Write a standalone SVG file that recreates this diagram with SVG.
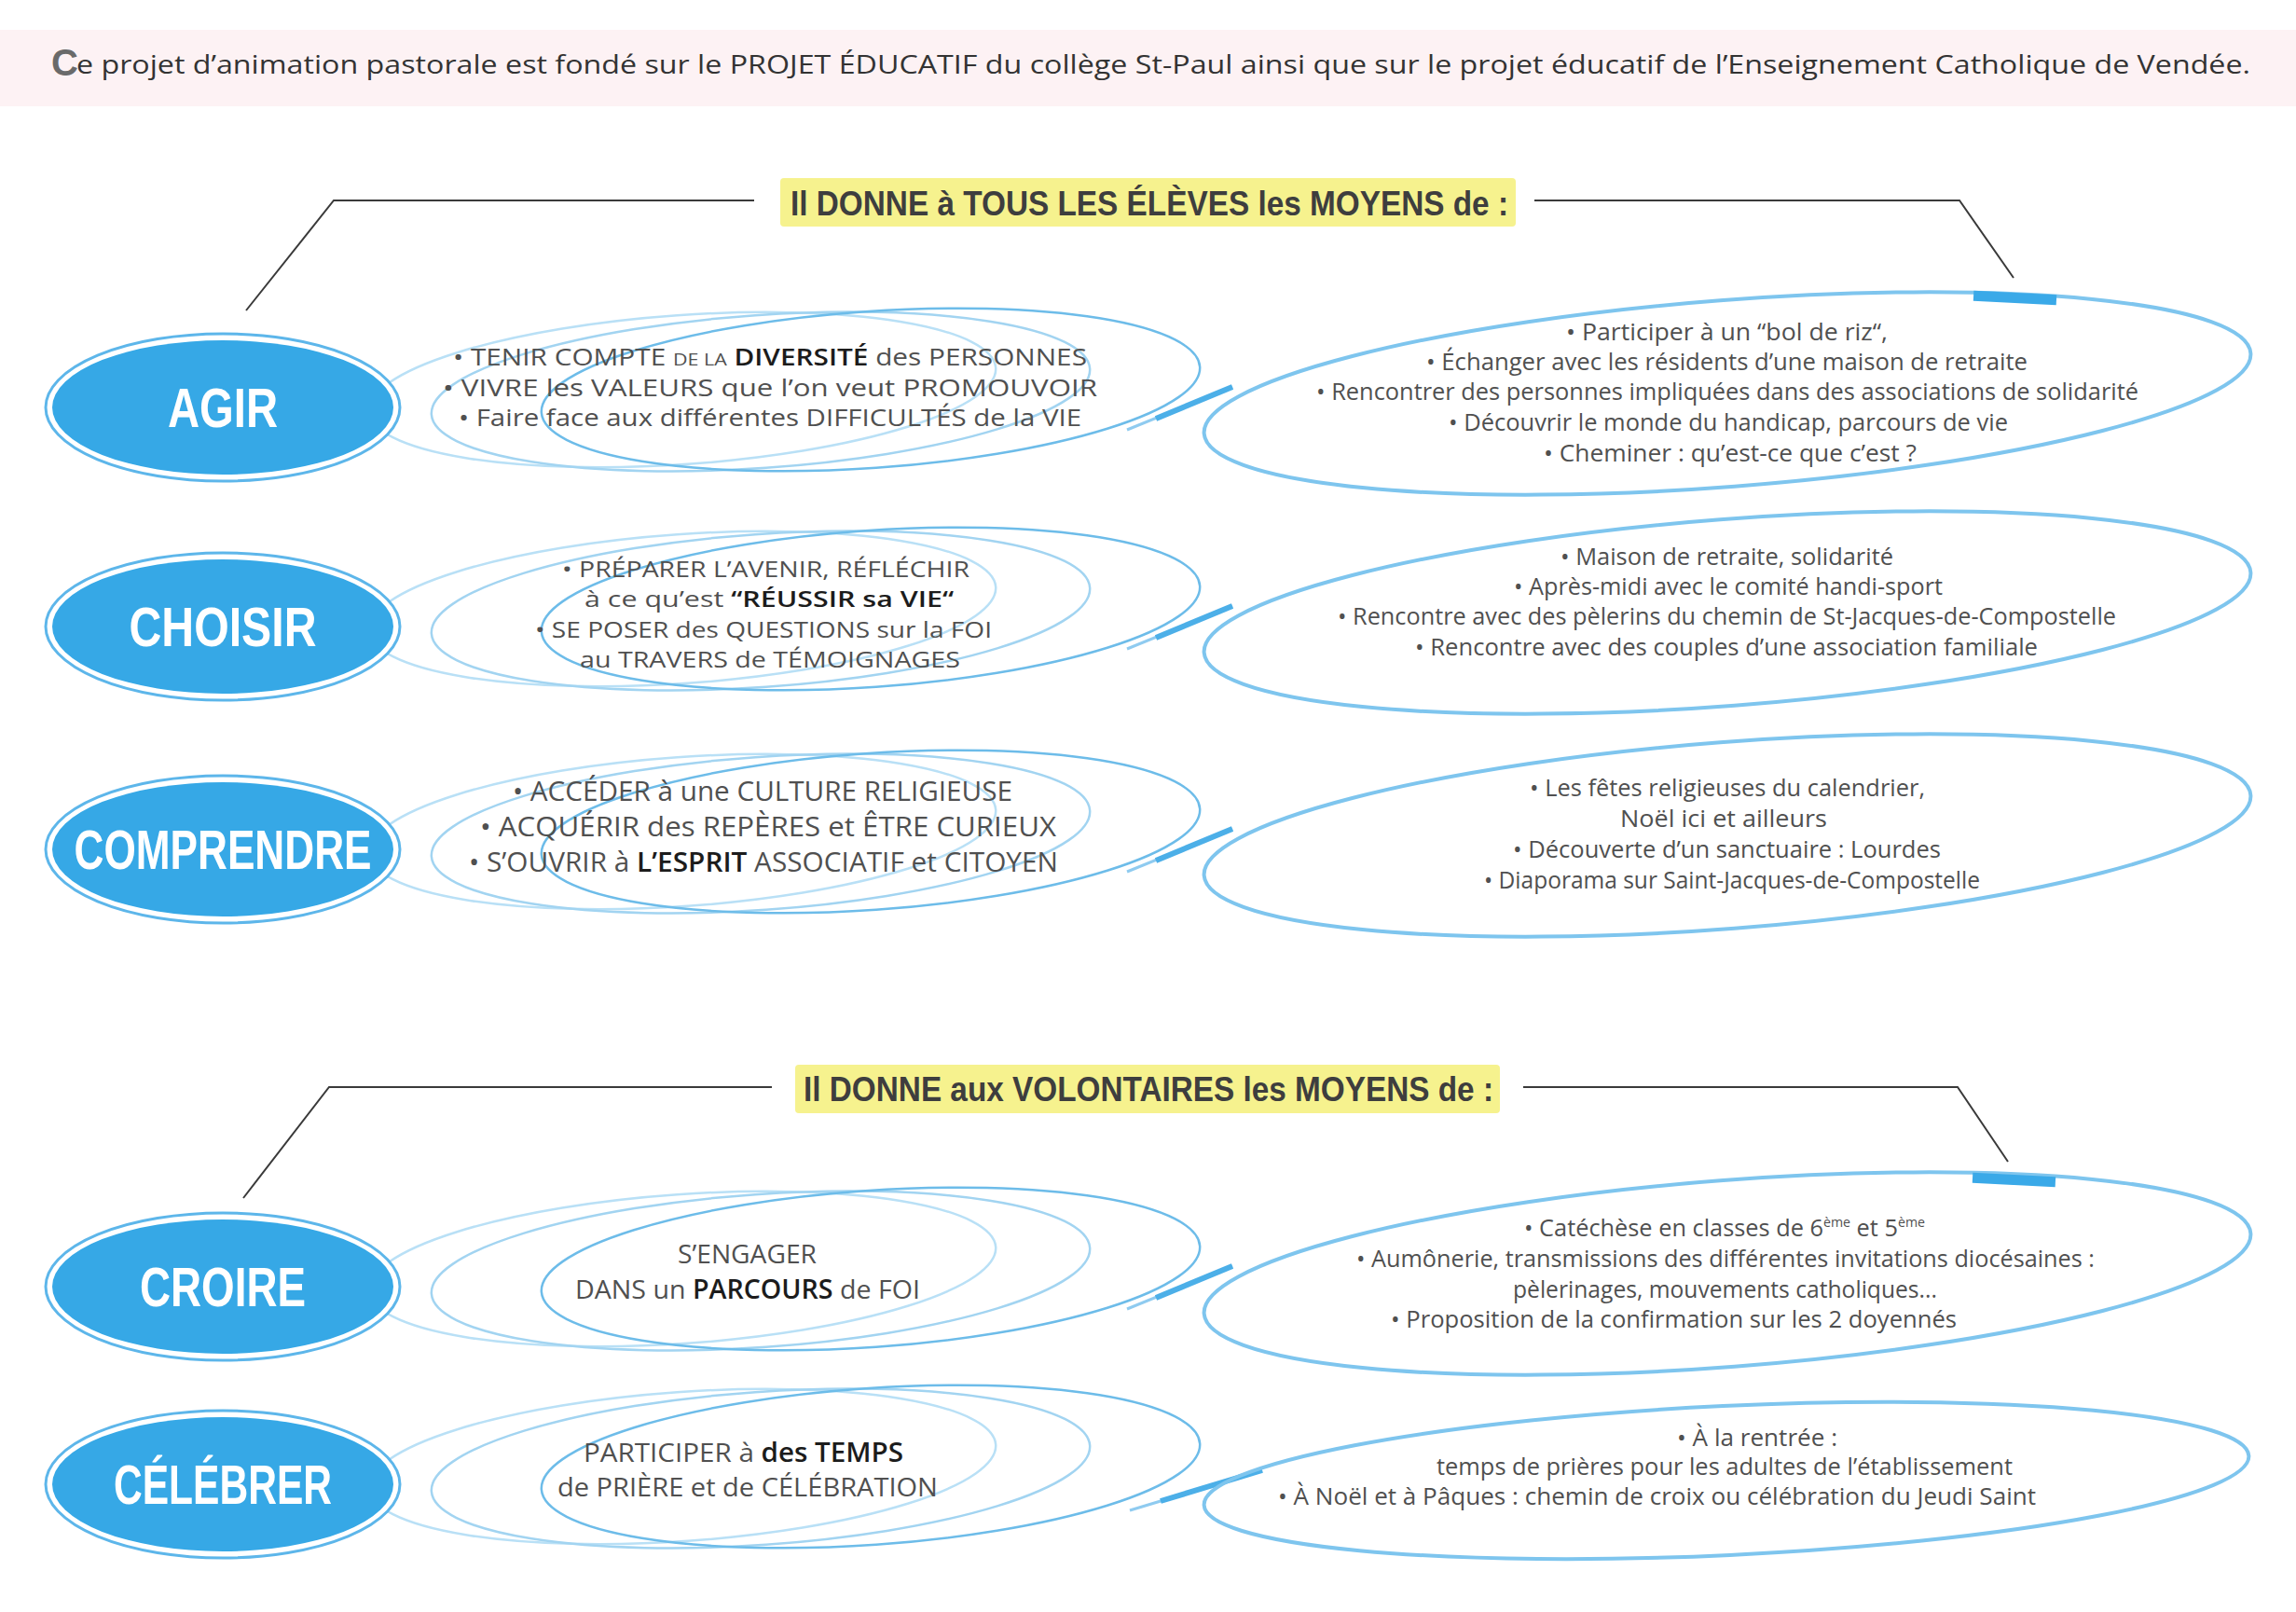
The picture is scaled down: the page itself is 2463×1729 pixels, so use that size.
<svg xmlns="http://www.w3.org/2000/svg" width="2463" height="1729" viewBox="0 0 2463 1729">
<defs>
<style>
.t{font-family:"Open Sans","Liberation Sans",Arial,sans-serif;fill:#505050;}
.m25{font-size:25px;}
.m24{font-size:24px;}
.m29{font-size:29px;}
.m28{font-size:28px;}
.r{font-size:25px;}
.em{fill:#1c1c1c;font-weight:600;}
.sc{font-size:18px;}
.lbl{font-family:"Liberation Sans",Arial,sans-serif;font-weight:bold;font-size:60px;fill:#ffffff;}
.hd{font-family:"Liberation Sans",Arial,sans-serif;font-weight:bold;font-size:36px;fill:#3e3e3e;}
.outer{fill:#ffffff;stroke:#5db6ea;stroke-width:3;}
.inner{fill:#36a8e6;}
.e1{fill:none;stroke:#b9e0f6;stroke-width:2.5;}
.e2{fill:none;stroke:#a2d4f1;stroke-width:2.5;}
.e3{fill:none;stroke:#6dbce9;stroke-width:2.5;}
.big{fill:none;stroke:#7ec5ee;stroke-width:4;}
.tab{fill:#3aa9e8;}
.lead{fill:none;stroke:#3a3a3a;stroke-width:2;}
.cthin{stroke:#8fcbf0;stroke-width:3;}
.cthick{stroke:#4cafe8;stroke-width:6;}
.hl{fill:#f6f28e;}
</style>
<g id="cluster">
<ellipse class="e1" cx="732" cy="418" rx="337" ry="80" transform="rotate(-4 732 418)"/>
<ellipse class="e2" cx="816" cy="420" rx="354" ry="82" transform="rotate(-4 816 420)"/>
<ellipse class="e3" cx="934" cy="418" rx="354" ry="84" transform="rotate(-4 934 418)"/>
</g>
</defs>
<rect width="2463" height="1729" fill="#ffffff"/>
<rect x="0" y="32" width="2463" height="82" fill="#fdf2f4"/>

<g id="header">
<text class="t" x="55" y="81" style="font-family:'Liberation Sans',Arial,sans-serif;font-weight:bold;font-size:40px;fill:#6a6a6a">C</text>
<text class="t" x="82" y="79" style="font-size:28px;fill:#333" textLength="2332" lengthAdjust="spacingAndGlyphs">e projet d’animation pastorale est fondé sur le PROJET ÉDUCATIF du collège St-Paul ainsi que sur le projet éducatif de l’Enseignement Catholique de Vendée.</text>
</g>

<g id="heading-tous">
<rect class="hl" x="837" y="191" width="789" height="52" rx="4"/>
<text class="hd" x="848" y="231" textLength="770" lengthAdjust="spacingAndGlyphs">Il DONNE à TOUS LES ÉLÈVES les MOYENS de :</text>
</g>
<g id="heading-volontaires">
<rect class="hl" x="853" y="1142" width="756" height="52" rx="4"/>
<text class="hd" x="862" y="1181" textLength="740" lengthAdjust="spacingAndGlyphs">Il DONNE aux VOLONTAIRES les MOYENS de :</text>
</g>

<g id="connectors">
<path class="lead" d="M809,215 H358 L264,333"/>
<path class="lead" d="M1646,215 H2102 L2160,298"/>
<path class="lead" d="M828,1166 H353 L261,1285"/>
<path class="lead" d="M1634,1166 H2100 L2154,1246"/>
<line class="cthin" x1="1209" y1="461" x2="1322" y2="415"/>
<line class="cthick" x1="1240" y1="449" x2="1322" y2="415"/>
<line class="cthin" x1="1209" y1="696" x2="1322" y2="650"/>
<line class="cthick" x1="1240" y1="684" x2="1322" y2="650"/>
<line class="cthin" x1="1209" y1="935" x2="1322" y2="889"/>
<line class="cthick" x1="1240" y1="923" x2="1322" y2="889"/>
<line class="cthin" x1="1209" y1="1404" x2="1322" y2="1358"/>
<line class="cthick" x1="1240" y1="1392" x2="1322" y2="1358"/>
<line class="cthin" x1="1212" y1="1620" x2="1354" y2="1577"/>
<line class="cthick" x1="1245" y1="1610" x2="1354" y2="1577"/>
</g>

<g id="agir-moyens">
<use href="#cluster"/>
<text class="t m25" x="486" y="392" textLength="680" lengthAdjust="spacingAndGlyphs">• TENIR COMPTE <tspan class="sc">DE LA</tspan> <tspan class="em">DIVERSITÉ</tspan> des PERSONNES</text>
<text class="t m25" x="475" y="425" textLength="702" lengthAdjust="spacingAndGlyphs">• VIVRE les VALEURS que l’on veut PROMOUVOIR</text>
<text class="t m25" x="492" y="457" textLength="668" lengthAdjust="spacingAndGlyphs">• Faire face aux différentes DIFFICULTÉS de la VIE</text>
</g>
<g id="agir">
<ellipse class="outer" cx="239" cy="437" rx="190" ry="79"/>
<ellipse class="inner" cx="239" cy="437" rx="183" ry="72"/>
<text class="lbl" x="239" y="458" text-anchor="middle" textLength="118" lengthAdjust="spacingAndGlyphs">AGIR</text>
</g>
<g id="agir-actions">
<ellipse class="big" cx="1853" cy="422" rx="563" ry="100" transform="rotate(-4.4 1853 422)"/>
<rect class="tab" x="2117" y="314" width="89" height="11" transform="rotate(3 2161 320)"/>
<text class="t r" x="1680" y="365" textLength="345" lengthAdjust="spacingAndGlyphs">• Participer à un “bol de riz“,</text>
<text class="t r" x="1530" y="397" textLength="645" lengthAdjust="spacingAndGlyphs">• Échanger avec les résidents d’une maison de retraite</text>
<text class="t r" x="1412" y="429" textLength="882" lengthAdjust="spacingAndGlyphs">• Rencontrer des personnes impliquées dans des associations de solidarité</text>
<text class="t r" x="1554" y="462" textLength="600" lengthAdjust="spacingAndGlyphs">• Découvrir le monde du handicap, parcours de vie</text>
<text class="t r" x="1656" y="495" textLength="400" lengthAdjust="spacingAndGlyphs">• Cheminer : qu’est-ce que c’est ?</text>
</g>

<g id="choisir-moyens">
<use href="#cluster" transform="translate(0,235)"/>
<text class="t m24" x="603" y="619" textLength="437" lengthAdjust="spacingAndGlyphs">• PRÉPARER L’AVENIR, RÉFLÉCHIR</text>
<text class="t m24" x="627" y="651" textLength="396" lengthAdjust="spacingAndGlyphs">à ce qu’est <tspan class="em">“RÉUSSIR sa VIE“</tspan></text>
<text class="t m24" x="574" y="684" textLength="490" lengthAdjust="spacingAndGlyphs">• SE POSER des QUESTIONS sur la FOI</text>
<text class="t m24" x="622" y="716" textLength="408" lengthAdjust="spacingAndGlyphs">au TRAVERS de TÉMOIGNAGES</text>
</g>
<g id="choisir">
<ellipse class="outer" cx="239" cy="672" rx="190" ry="79"/>
<ellipse class="inner" cx="239" cy="672" rx="183" ry="72"/>
<text class="lbl" x="239" y="693" text-anchor="middle" textLength="201" lengthAdjust="spacingAndGlyphs">CHOISIR</text>
</g>
<g id="choisir-actions">
<ellipse class="big" cx="1853" cy="657" rx="563" ry="100" transform="rotate(-4.4 1853 657)"/>
<text class="t r" x="1674" y="606" textLength="357" lengthAdjust="spacingAndGlyphs">• Maison de retraite, solidarité</text>
<text class="t r" x="1624" y="638" textLength="460" lengthAdjust="spacingAndGlyphs">• Après-midi avec le comité handi-sport</text>
<text class="t r" x="1435" y="670" textLength="835" lengthAdjust="spacingAndGlyphs">• Rencontre avec des pèlerins du chemin de St-Jacques-de-Compostelle</text>
<text class="t r" x="1518" y="703" textLength="668" lengthAdjust="spacingAndGlyphs">• Rencontre avec des couples d’une association familiale</text>
</g>

<g id="comprendre-moyens">
<use href="#cluster" transform="translate(0,474)"/>
<text class="t m29" x="550" y="859" textLength="536" lengthAdjust="spacingAndGlyphs">• ACCÉDER à une CULTURE RELIGIEUSE</text>
<text class="t m29" x="515" y="897" textLength="618" lengthAdjust="spacingAndGlyphs">• ACQUÉRIR des REPÈRES et ÊTRE CURIEUX</text>
<text class="t m29" x="503" y="935" textLength="632" lengthAdjust="spacingAndGlyphs">• S’OUVRIR à <tspan class="em">L’ESPRIT</tspan> ASSOCIATIF et CITOYEN</text>
</g>
<g id="comprendre">
<ellipse class="outer" cx="239" cy="911" rx="190" ry="79"/>
<ellipse class="inner" cx="239" cy="911" rx="183" ry="72"/>
<text class="lbl" x="239" y="932" text-anchor="middle" textLength="319" lengthAdjust="spacingAndGlyphs">COMPRENDRE</text>
</g>
<g id="comprendre-actions">
<ellipse class="big" cx="1853" cy="896" rx="563" ry="100" transform="rotate(-4.4 1853 896)"/>
<text class="t r" x="1641" y="854" textLength="424" lengthAdjust="spacingAndGlyphs">• Les fêtes religieuses du calendrier,</text>
<text class="t r" x="1738" y="887" textLength="222" lengthAdjust="spacingAndGlyphs">Noël ici et ailleurs</text>
<text class="t r" x="1623" y="920" textLength="459" lengthAdjust="spacingAndGlyphs">• Découverte d’un sanctuaire : Lourdes</text>
<text class="t r" x="1592" y="953" textLength="532" lengthAdjust="spacingAndGlyphs">• Diaporama sur Saint-Jacques-de-Compostelle</text>
</g>

<g id="croire-moyens">
<use href="#cluster" transform="translate(0,943)"/>
<text class="t m28" x="727" y="1355" textLength="149" lengthAdjust="spacingAndGlyphs">S’ENGAGER</text>
<text class="t m28" x="617" y="1393" textLength="370" lengthAdjust="spacingAndGlyphs">DANS un <tspan class="em">PARCOURS</tspan> de FOI</text>
</g>
<g id="croire">
<ellipse class="outer" cx="239" cy="1380" rx="190" ry="79"/>
<ellipse class="inner" cx="239" cy="1380" rx="183" ry="72"/>
<text class="lbl" x="239" y="1401" text-anchor="middle" textLength="178" lengthAdjust="spacingAndGlyphs">CROIRE</text>
</g>
<g id="croire-actions">
<ellipse class="big" cx="1853" cy="1366" rx="563" ry="100" transform="rotate(-4.4 1853 1366)"/>
<rect class="tab" x="2116" y="1260" width="89" height="11" transform="rotate(3 2160 1265)"/>
<text class="t r" x="1635" y="1326" textLength="430" lengthAdjust="spacingAndGlyphs">• Catéchèse en classes de 6<tspan dy="-10" font-size="14">ème</tspan><tspan dy="10"> et 5</tspan><tspan dy="-10" font-size="14">ème</tspan></text>
<text class="t r" x="1455" y="1359" textLength="792" lengthAdjust="spacingAndGlyphs">• Aumônerie, transmissions des différentes invitations diocésaines :</text>
<text class="t r" x="1623" y="1392" textLength="455" lengthAdjust="spacingAndGlyphs">pèlerinages, mouvements catholiques...</text>
<text class="t r" x="1492" y="1424" textLength="607" lengthAdjust="spacingAndGlyphs">• Proposition de la confirmation sur les 2 doyennés</text>
</g>

<g id="celebrer-moyens">
<use href="#cluster" transform="translate(0,1155)"/>
<text class="t m28" x="626" y="1568" textLength="343" lengthAdjust="spacingAndGlyphs">PARTICIPER à <tspan class="em">des TEMPS</tspan></text>
<text class="t m28" x="598" y="1605" textLength="408" lengthAdjust="spacingAndGlyphs">de PRIÈRE et de CÉLÉBRATION</text>
</g>
<g id="celebrer">
<ellipse class="outer" cx="239" cy="1592" rx="190" ry="79"/>
<ellipse class="inner" cx="239" cy="1592" rx="183" ry="72"/>
<text class="lbl" x="239" y="1613" text-anchor="middle" textLength="234" lengthAdjust="spacingAndGlyphs">CÉLÉBRER</text>
</g>
<g id="celebrer-actions">
<ellipse class="big" cx="1852" cy="1588" rx="561" ry="80" transform="rotate(-2.7 1852 1588)"/>
<text class="t r" x="1799" y="1551" textLength="172" lengthAdjust="spacingAndGlyphs">• À la rentrée :</text>
<text class="t r" x="1541" y="1582" textLength="618" lengthAdjust="spacingAndGlyphs">temps de prières pour les adultes de l’établissement</text>
<text class="t r" x="1371" y="1614" textLength="813" lengthAdjust="spacingAndGlyphs">• À Noël et à Pâques : chemin de croix ou célébration du Jeudi Saint</text>
</g>
</svg>
